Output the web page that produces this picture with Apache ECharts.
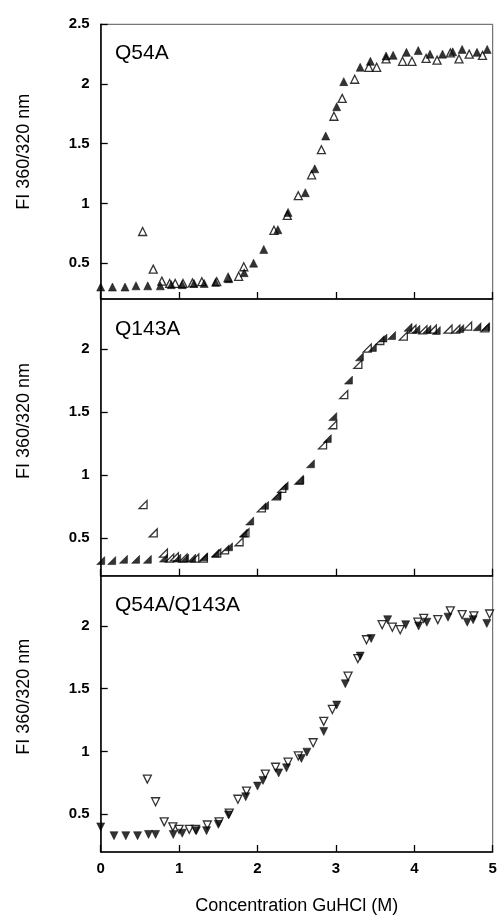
<!DOCTYPE html>
<html>
<head>
<meta charset="utf-8">
<title>GuHCl denaturation</title>
<script src="https://cdn.jsdelivr.net/npm/echarts@6/dist/echarts.min.js"></script>
<style>
  html, body { margin: 0; padding: 0; background: #fff; }
  #chart { width: 502px; height: 919px; }
</style>
</head>
<body>
<div id="chart"></div>
<script>
// Fluorescence ratio (360/320 nm) vs. GuHCl concentration (M)
// filled = one data set, open = the other, for each variant

const panelLabels = ['Q54A', 'Q143A', 'Q54A/Q143A'];
const xTicks = [0, 1, 2, 3, 4, 5];
const yTicksTop = [0.5, 1, 1.5, 2, 2.5];
const yTicks = [0.5, 1, 1.5, 2];

const q54aFilled = [
  [0, 0.30], [0.15, 0.30], [0.31, 0.30], [0.45, 0.31], [0.60, 0.31], [0.76, 0.31],
  [0.90, 0.32], [1.04, 0.32], [1.19, 0.33], [1.32, 0.33], [1.465, 0.34], [1.63, 0.37],
  [1.83, 0.42], [1.95, 0.50], [2.08, 0.615], [2.26, 0.78], [2.39, 0.925], [2.61, 1.09],
  [2.73, 1.29], [2.87, 1.565], [3.01, 1.81], [3.10, 2.02], [3.31, 2.14], [3.44, 2.19],
  [3.64, 2.235], [3.73, 2.24], [3.90, 2.265], [4.05, 2.28], [4.20, 2.25], [4.36, 2.25],
  [4.49, 2.27], [4.61, 2.29], [4.80, 2.265], [4.93, 2.29]
];
const q54aOpen = [
  [0.535, 0.765], [0.67, 0.45], [0.78, 0.35], [0.88, 0.33], [0.95, 0.33], [1.05, 0.33],
  [1.17, 0.335], [1.29, 0.345], [1.48, 0.345], [1.625, 0.38], [1.76, 0.39], [1.825, 0.47],
  [2.21, 0.775], [2.38, 0.90], [2.52, 1.065], [2.69, 1.24], [2.815, 1.45], [2.975, 1.73],
  [3.08, 1.88], [3.24, 2.04], [3.42, 2.14], [3.52, 2.14], [3.64, 2.21], [3.85, 2.19],
  [3.97, 2.19], [4.15, 2.215], [4.29, 2.20], [4.46, 2.26], [4.57, 2.21], [4.70, 2.25],
  [4.87, 2.24]
];

const q143aFilled = [
  [0, 0.32], [0.14, 0.32], [0.29, 0.33], [0.445, 0.33], [0.595, 0.33], [0.80, 0.34],
  [0.97, 0.34], [1.07, 0.34], [1.16, 0.34], [1.31, 0.35], [1.46, 0.38], [1.63, 0.43],
  [1.82, 0.54], [1.90, 0.635], [2.09, 0.76], [2.25, 0.84], [2.34, 0.915], [2.54, 0.96],
  [2.675, 1.09], [2.89, 1.29], [2.96, 1.465], [3.16, 1.755], [3.30, 1.94], [3.465, 2.015],
  [3.60, 2.09], [3.71, 2.11], [3.92, 2.175], [4.02, 2.16], [4.16, 2.16], [4.28, 2.15],
  [4.58, 2.165], [4.80, 2.18], [4.91, 2.18]
];
const q143aOpen = [
  [0.54, 0.765], [0.67, 0.54], [0.80, 0.38], [0.88, 0.34], [0.94, 0.35], [1.05, 0.34],
  [1.20, 0.34], [1.31, 0.34], [1.48, 0.38], [1.58, 0.405], [1.765, 0.47], [1.84, 0.54],
  [2.05, 0.74], [2.24, 0.835], [2.31, 0.895], [2.53, 0.96], [2.83, 1.24], [2.96, 1.40],
  [3.10, 1.64], [3.28, 1.88], [3.40, 2.01], [3.56, 2.07], [3.86, 2.105], [3.97, 2.16],
  [4.11, 2.155], [4.23, 2.16], [4.43, 2.16], [4.53, 2.16], [4.68, 2.185], [4.90, 2.17]
];

const doubleFilled = [
  [0, 0.40], [0.17, 0.33], [0.32, 0.33], [0.47, 0.33], [0.61, 0.34], [0.70, 0.34],
  [0.925, 0.34], [1.04, 0.35], [1.22, 0.37], [1.35, 0.37], [1.50, 0.42], [1.63, 0.495],
  [1.85, 0.64], [2.00, 0.725], [2.07, 0.77], [2.27, 0.83], [2.37, 0.87], [2.56, 0.945],
  [2.63, 0.995], [2.845, 1.16], [3.01, 1.37], [3.12, 1.54], [3.31, 1.76], [3.45, 1.90],
  [3.66, 2.05], [3.89, 2.01], [4.055, 2.00], [4.16, 2.03], [4.43, 2.07], [4.675, 2.03],
  [4.75, 2.05], [4.925, 2.02]
];
const doubleOpen = [
  [0.595, 0.78], [0.70, 0.60], [0.81, 0.44], [0.92, 0.40], [1.00, 0.38], [1.13, 0.38],
  [1.21, 0.38], [1.36, 0.415], [1.51, 0.44], [1.64, 0.51], [1.75, 0.62], [1.86, 0.685],
  [2.10, 0.82], [2.23, 0.875], [2.39, 0.915], [2.52, 0.965], [2.71, 1.07], [2.845, 1.24],
  [2.955, 1.335], [3.155, 1.60], [3.28, 1.74], [3.39, 1.89], [3.59, 2.01], [3.72, 1.99],
  [3.82, 1.97], [4.045, 2.03], [4.12, 2.06], [4.30, 2.05], [4.46, 2.12], [4.61, 2.09],
  [4.76, 2.08], [4.96, 2.095]
];

const FONT = '"Liberation Sans", Arial, Helvetica, sans-serif';
const rightTri = 'path://M0,10L10,10L10,0Z';

const grids = [
  { left: 100.7, right: 9.3, top: 24.3, height: 274.7 },
  { left: 100.7, right: 9.3, top: 299, height: 276.7 },
  { left: 100.7, right: 9.3, top: 575.7, height: 276.3 }
].map(g => Object.assign(g, { show: true, borderColor: '#555', borderWidth: 1, containLabel: false }));

function xAxis(i) {
  const last = i === 2;
  return {
    gridIndex: i, type: 'value', min: 0, max: 5, interval: 1,
    axisLine: { show: true, onZero: false, lineStyle: { color: '#000', width: 1.5 } },
    axisTick: { show: true, inside: true, length: 7, customValues: xTicks, lineStyle: { color: '#000', width: 1.3 } },
    axisLabel: { show: last, margin: 9, customValues: xTicks, color: '#000', fontFamily: FONT, fontSize: 15, fontWeight: 'bold' },
    splitLine: { show: false },
    name: last ? 'Concentration GuHCl (M)' : '',
    nameLocation: 'middle', nameGap: 45,
    nameTextStyle: { color: '#000', fontFamily: FONT, fontSize: 18 }
  };
}

function yAxis(i, min, max, ticks) {
  return {
    gridIndex: i, type: 'value', min: min, max: max,
    axisLine: { show: true, onZero: false, lineStyle: { color: '#000', width: 1.5 } },
    axisTick: { show: true, inside: true, length: 7, customValues: ticks, lineStyle: { color: '#000', width: 1.3 } },
    axisLabel: { show: true, margin: 11, customValues: ticks, color: '#000', fontFamily: FONT, fontSize: 15, fontWeight: 'bold' },
    splitLine: { show: false }
  };
}

function filled(i, data, symbol, rotate) {
  return {
    type: 'scatter', xAxisIndex: i, yAxisIndex: i, data: data,
    symbol: symbol, symbolSize: 8, symbolRotate: rotate || 0,
    itemStyle: { color: '#000', borderColor: '#000', borderWidth: 0.6 },
    silent: true, z: 3
  };
}
function open(i, data, symbol, rotate) {
  return {
    type: 'scatter', xAxisIndex: i, yAxisIndex: i, data: data,
    symbol: symbol, symbolSize: 8, symbolRotate: rotate || 0,
    itemStyle: { color: '#fff', borderColor: '#000', borderWidth: 1.3 },
    silent: true, z: 2
  };
}

const panelTextY = [53.5, 329, 605];
const graphics = panelLabels.map((t, i) => ({
  type: 'text', x: 115, y: panelTextY[i], z: 10,
  style: { text: t, fill: '#000', font: '21px ' + FONT, align: 'left', verticalAlign: 'middle' }
}));
[161.7 - 10, 437 - 16, 713.8 - 17].forEach(cy => {
  graphics.push({
    type: 'text', x: 24, y: cy, rotation: Math.PI / 2, z: 10,
    style: { text: 'FI 360/320 nm', fill: '#000', font: '18px ' + FONT, align: 'center', verticalAlign: 'middle' }
  });
});

const chart = echarts.init(document.getElementById('chart'), null, { renderer: 'canvas' });
chart.setOption({
  backgroundColor: '#fff',
  animation: false,
  grid: grids,
  xAxis: [xAxis(0), xAxis(1), xAxis(2)],
  yAxis: [
    yAxis(0, 0.2, 2.5, yTicksTop),
    yAxis(1, 0.2, 2.4, yTicks),
    yAxis(2, 0.2, 2.4, yTicks)
  ],
  series: [
    open(0, q54aOpen, 'triangle'),
    filled(0, q54aFilled, 'triangle'),
    open(1, q143aOpen, rightTri),
    filled(1, q143aFilled, rightTri),
    open(2, doubleOpen, 'triangle', 180),
    filled(2, doubleFilled, 'triangle', 180)
  ],
  graphic: graphics
});
</script>
</body>
</html>
